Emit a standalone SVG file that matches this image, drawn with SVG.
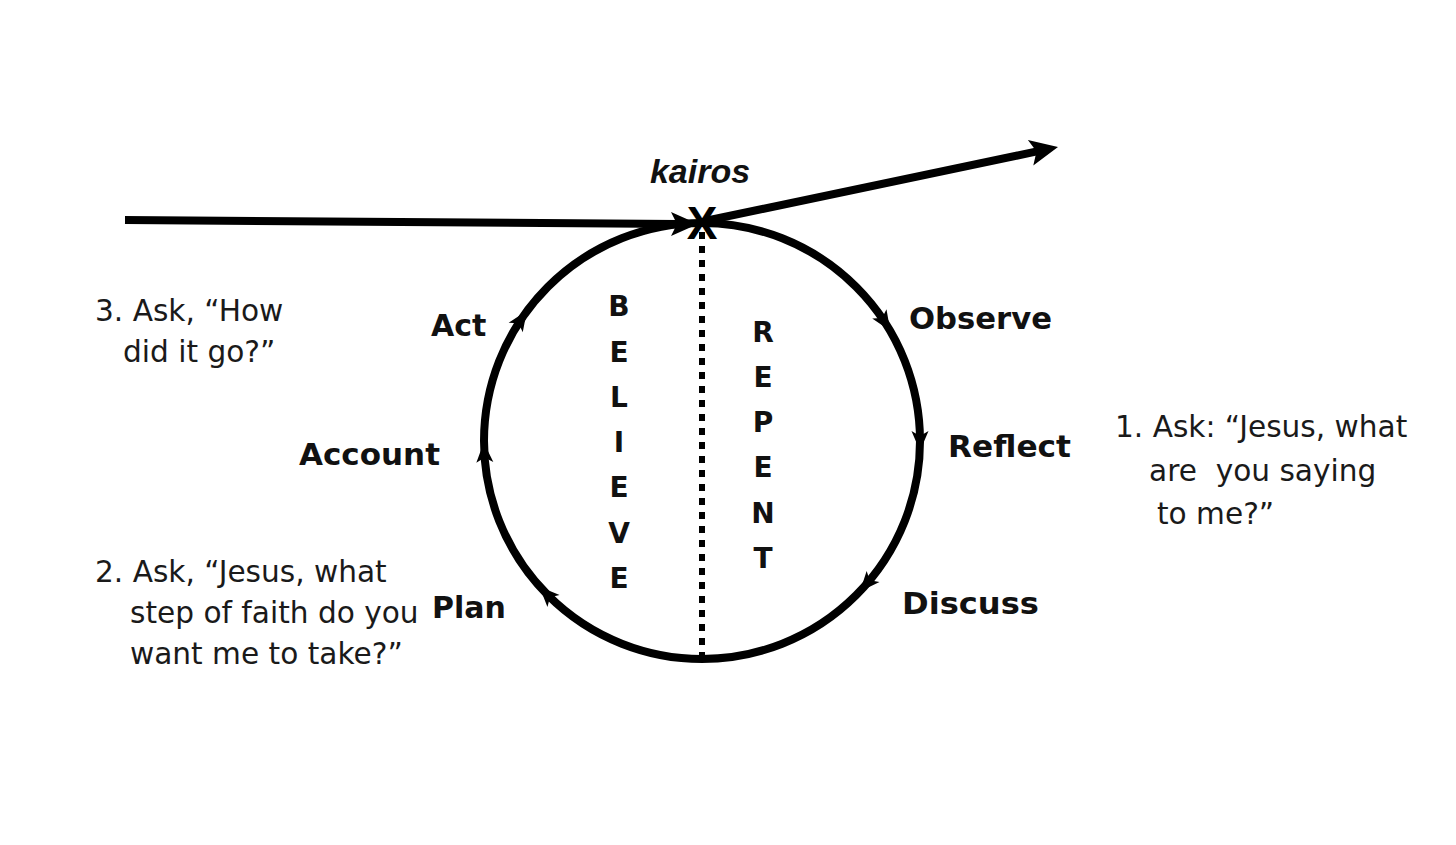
<svg xmlns="http://www.w3.org/2000/svg" xmlns:xlink="http://www.w3.org/1999/xlink" width="1456" height="845" viewBox="0 0 1456 845">
  <style>
    .lbl { font-family: "DejaVu Sans", "Liberation Sans", sans-serif; font-weight: bold; font-size: 30px; fill: #111; }
    .vert { font-family: "DejaVu Sans", "Liberation Sans", sans-serif; font-weight: bold; font-size: 28px; fill: #111; text-anchor: middle; }
    .q { font-family: "DejaVu Sans", "Noto Sans", sans-serif; font-size: 29.6px; fill: #1a1a1a; }
    .line { fill: none; stroke: #000; stroke-width: 8; }
    .ah { fill: #000; }
  </style>
  <defs>
    <path id="ah" d="M10,0 L-10,-8.5 L-5,0 L-10,8.5 Z"/>
  </defs>
  <rect width="1456" height="845" fill="#fff"/>

  <g id="connectors">
    <line class="line" x1="125" y1="220" x2="679" y2="223.9"/>
    <path class="ah" d="M698,224 L671,212 L677,224 L671,236 Z"/>
    <line class="line" x1="705" y1="221" x2="1037" y2="151.4"/>
    <path class="ah" d="M1058,147 L1033.3,165.4 L1036.5,151.5 L1027.9,140 Z"/>
  </g>

  <g id="cycle">
    <circle class="line" cx="702" cy="441" r="218"/>
    <line x1="702" y1="232" x2="702" y2="656" stroke="#000" stroke-width="6" stroke-dasharray="7 7"/>
    <g class="ah">
      <use xlink:href="#ah" transform="translate(884.8,322.3) rotate(57)"/>
      <use xlink:href="#ah" transform="translate(920,441) rotate(90)"/>
      <use xlink:href="#ah" transform="translate(866.5,584) rotate(131)"/>
      <use xlink:href="#ah" transform="translate(546.5,593.8) rotate(225.5)"/>
      <use xlink:href="#ah" transform="translate(484.3,452.4) rotate(267)"/>
      <use xlink:href="#ah" transform="translate(521.3,319.1) rotate(304)"/>
    </g>
  </g>

  <g id="kairos">
    <text x="700" y="183" text-anchor="middle" style="font-family: 'Liberation Sans', Arial, sans-serif; font-weight: bold; font-style: italic; font-size: 34px; fill: #111;">kairos</text>
    <text x="702" y="239" text-anchor="middle" style="font-family: 'Liberation Sans', Arial, sans-serif; font-weight: bold; font-size: 46px; fill: #000;">X</text>
  </g>

  <g id="node-observe"><text class="lbl" x="909" y="329" textLength="143" lengthAdjust="spacingAndGlyphs">Observe</text></g>
  <g id="node-reflect"><text class="lbl" x="948" y="457" textLength="123" lengthAdjust="spacingAndGlyphs">Reflect</text></g>
  <g id="node-discuss"><text class="lbl" x="902" y="614" textLength="137" lengthAdjust="spacingAndGlyphs">Discuss</text></g>
  <g id="node-plan"><text class="lbl" x="432" y="618">Plan</text></g>
  <g id="node-account"><text class="lbl" x="299" y="465" textLength="141" lengthAdjust="spacingAndGlyphs">Account</text></g>
  <g id="node-act"><text class="lbl" x="431" y="336">Act</text></g>

  <g id="believe">
    <text class="vert" x="619" y="316">B</text>
    <text class="vert" x="619" y="362">E</text>
    <text class="vert" x="619" y="407">L</text>
    <text class="vert" x="619" y="452">I</text>
    <text class="vert" x="619" y="497">E</text>
    <text class="vert" x="619" y="543">V</text>
    <text class="vert" x="619" y="588">E</text>
  </g>
  <g id="repent">
    <text class="vert" x="763" y="342">R</text>
    <text class="vert" x="763" y="387">E</text>
    <text class="vert" x="763" y="432">P</text>
    <text class="vert" x="763" y="477">E</text>
    <text class="vert" x="763" y="523">N</text>
    <text class="vert" x="763" y="568">T</text>
  </g>

  <g id="question-1">
    <text class="q" x="1115" y="437">1. Ask: “Jesus, what</text>
    <text class="q" x="1149" y="481" xml:space="preserve">are  you saying</text>
    <text class="q" x="1157" y="524">to me?”</text>
  </g>
  <g id="question-2">
    <text class="q" x="95" y="582">2. Ask, “Jesus, what</text>
    <text class="q" x="130" y="623">step of faith do you</text>
    <text class="q" x="130" y="664">want me to take?”</text>
  </g>
  <g id="question-3">
    <text class="q" x="95" y="321">3. Ask, “How</text>
    <text class="q" x="123" y="362">did it go?”</text>
  </g>
</svg>
